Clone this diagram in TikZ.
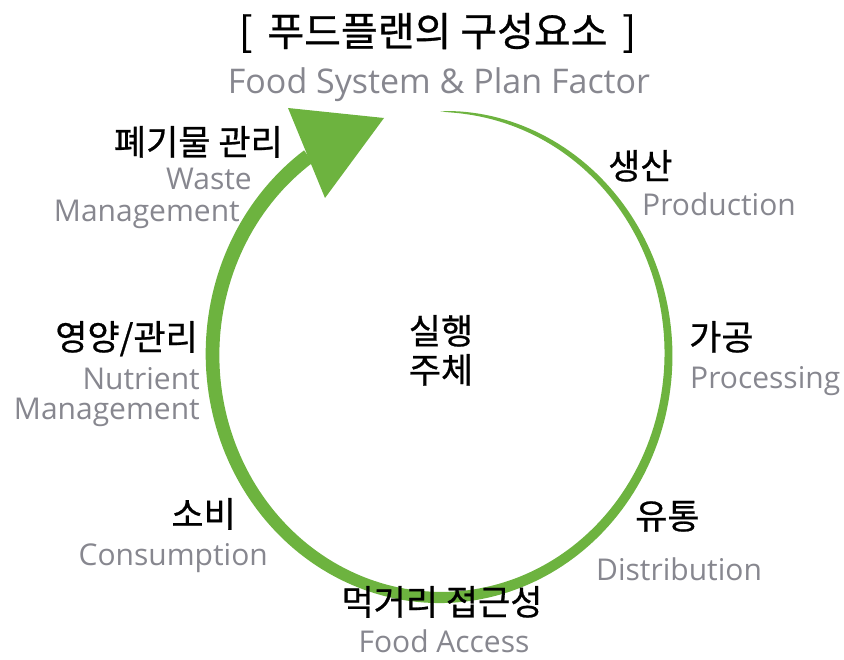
\documentclass[tikz,border=0pt]{standalone}
\usepackage{fontspec}
\newfontfamily\kfont[FakeBold=0.7]{Noto Sans CJK KR}
\newfontfamily\efont{Open Sans}
\definecolor{brush}{RGB}{109,179,63}
\definecolor{enggray}{RGB}{135,135,143}
\tikzset{
  kor/.style={font=\kfont\fontsize{35}{40}\selectfont, inner sep=0pt, text=black},
  eng/.style={font=\efont\fontsize{30}{36}\selectfont, inner sep=0pt, text=enggray},
  ttl/.style={font=\kfont\fontsize{40}{44}\selectfont, inner sep=0pt, text=black},
  sub/.style={font=\efont\fontsize{34}{40}\selectfont, inner sep=0pt, text=enggray},
}
\begin{document}
\begin{tikzpicture}[x=1pt,y=-1pt]
\useasboundingbox (0,0) rectangle (844,660);
% brush circle
\fill[brush] plot[variable=\t, domain=0:324.6, samples=200]
   ({440.5+(228+7.5*sqrt(\t/324.6))*cos(90-\t)},{354.5-(243+7.5*sqrt(\t/324.6))*sin(90-\t)})
 -- plot[variable=\t, domain=324.6:0, samples=200]
   ({440.5+(228-7.5*sqrt(\t/324.6))*cos(90-\t)},{354.5-(243-7.5*sqrt(\t/324.6))*sin(90-\t)})
 -- cycle;
% arrow head
\fill[brush] (288,108) -- (384,118) -- (325,198) -- cycle;
% title
\node[ttl, anchor=base] (title) at (437.5,46) {[\hspace{0.15em} 푸드플랜의 구성요소 \hspace{0.15em}]};
\node[sub, anchor=base] (subtitle) at (439,94) {Food System \& Plan Factor};
% center
\node[kor, anchor=base] (c1) at (441,344) {실행};
\node[kor, anchor=base] (c2) at (441,383) {주체};
% labels
\node[kor, anchor=base east] (waste) at (283,155) {폐기물 관리};
\node[eng, anchor=base east] (wastee1) at (252,190) {Waste};
\node[eng, anchor=base east] (wastee2) at (240,222) {Management};
\node[kor, anchor=base west] (prod) at (608,179) {생산};
\node[eng, anchor=base west] (prode) at (642,216) {Production};
\node[kor, anchor=base west] (proc) at (689,350) {가공};
\node[eng, anchor=base west] (proce) at (690,389) {Processing};
\node[kor, anchor=base west] (dist) at (635,529) {유통};
\node[eng, anchor=base west] (diste) at (596,580) {Distribution};
\node[kor, anchor=base] (acc) at (442,615) {먹거리 접근성};
\node[eng, anchor=base] (acce) at (444,652) {Food Access};
\node[kor, anchor=base east] (cons) at (236,527) {소비};
\node[eng, anchor=base east] (conse) at (268,565) {Consumption};
\node[kor, anchor=base east] (nutr) at (198,350) {영양/관리};
\node[eng, anchor=base east] (nutre1) at (200,390) {Nutrient};
\node[eng, anchor=base east] (nutre2) at (200,420) {Management};
\end{tikzpicture}
\end{document}
